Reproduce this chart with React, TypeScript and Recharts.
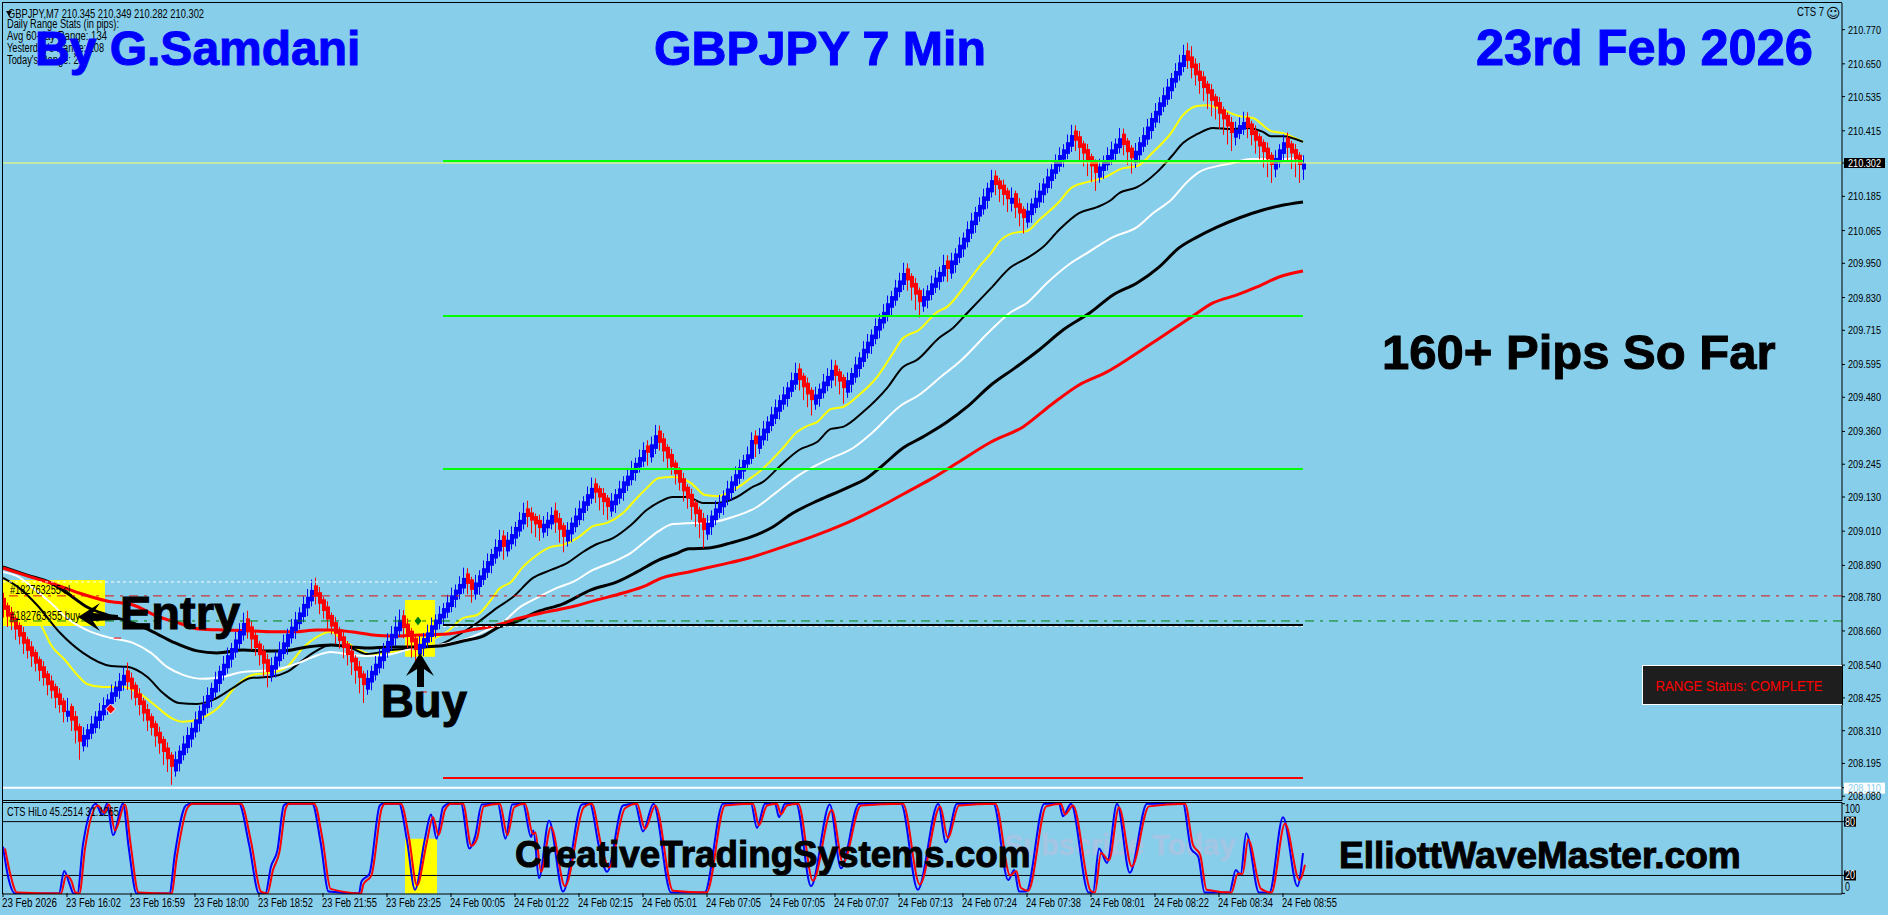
import React from "react";
import { ComposedChart, Bar, Line, XAxis, YAxis, ReferenceLine, ReferenceArea, ReferenceDot } from "recharts";

const closes = [
208.734,208.71,208.69,208.665,208.64,208.615,208.59,208.57,208.545,208.52,208.495,208.47,208.45,208.425,208.40,208.375,208.38,208.345,208.31,208.271,
208.295,208.315,208.335,208.36,208.38,208.40,208.42,208.445,208.465,208.485,208.506,
208.48,208.455,208.425,208.40,208.37,208.345,208.32,208.29,208.265,208.235,208.21,208.183,
208.21,208.24,208.265,208.295,208.32,208.35,208.38,208.405,208.435,208.46,208.49,208.52,208.545,208.575,208.60,208.63,208.66,208.688,
208.66,208.63,208.60,208.575,208.545,208.516,
208.54,208.57,208.595,208.62,208.65,208.675,208.70,208.725,208.755,208.78,208.804,
208.78,208.755,208.73,208.70,208.675,208.65,208.625,208.60,208.575,208.55,208.52,208.495,208.47,
208.495,208.52,208.545,208.57,208.60,208.625,208.65,208.675,208.699,
208.67,208.645,208.62,208.593,
208.615,208.635,208.655,208.68,208.70,208.72,208.74,208.76,208.785,208.805,208.825,208.846,
208.825,208.804,
208.83,208.855,208.88,208.905,208.93,208.955,208.979,
208.955,
208.98,209.00,209.025,209.05,209.074,
209.06,209.047,209.034,209.021,
209.036,209.05,209.067,
209.04,209.015,208.99,
209.015,209.04,209.065,209.09,209.115,209.14,209.162,
209.145,209.128,209.112,209.095,
209.117,209.14,209.16,209.185,209.205,209.23,209.25,209.27,209.295,
209.285,
209.315,209.347,
209.32,209.29,209.265,209.235,209.21,209.18,209.15,209.125,209.095,209.07,209.04,209.014,
209.04,209.065,209.09,209.11,209.135,209.16,209.185,209.21,209.235,209.26,209.28,209.33,
209.315,
209.345,209.37,209.395,209.42,209.445,209.47,209.49,209.515,209.54,209.565,
209.54,209.515,209.49,209.47,
209.49,209.51,209.535,209.555,209.576,
209.555,209.535,209.512,
209.54,209.565,209.595,209.62,209.65,209.675,209.70,209.73,209.755,209.78,209.81,209.835,209.865,209.89,209.916,
209.89,209.865,209.84,209.814,
209.835,209.855,209.88,209.90,209.92,209.944,
209.93,
209.96,209.985,210.015,210.04,210.07,210.10,210.13,210.155,210.185,210.215,210.242,
210.225,210.21,210.19,210.175,210.18,210.145,210.125,210.109,
210.135,210.16,210.18,210.205,210.23,210.255,210.28,210.305,210.33,210.35,210.375,210.40,
210.38,210.355,210.335,210.31,210.29,210.267,
210.29,210.31,210.33,210.35,210.37,210.389,
210.365,210.34,210.319,
210.345,210.375,210.40,210.43,210.46,210.485,210.515,210.54,210.57,210.60,210.625,210.655,210.681,
210.66,210.635,210.61,210.59,210.565,210.545,210.52,210.50,210.475,210.455,210.43,210.407,
210.42,210.435,210.446,
210.425,210.40,210.38,210.36,210.34,210.315,210.295,
210.32,210.35,210.375,
210.355,210.335,210.315,210.295,
210.302,
];

const wickUpPips = [
2,1,2,1,1,2,1,2,1,1,2,1,2,1,2,1,5,1,2,1,
3,2,3,2,3,3,2,3,2,3,3,
3,2,1,2,1,2,1,1,2,1,2,1,
3,2,3,3,2,3,2,3,3,2,3,2,3,3,2,3,3,4,
3,2,2,1,2,2,
3,2,3,3,2,3,3,2,3,3,4,
3,2,1,2,1,2,1,2,1,2,1,2,1,
3,2,3,3,2,3,3,4,4,
2,2,1,1,
3,2,3,3,2,3,2,3,3,2,3,4,
2,1,
3,2,3,3,2,3,4,
2,
3,3,2,3,4,
3,2,1,2,
3,3,3,
3,2,1,
3,2,3,3,2,3,4,
2,1,2,1,
3,2,3,2,3,3,2,3,3,
2,
3,4,
2,2,1,2,1,1,2,1,2,1,1,2,
3,2,3,3,2,3,2,3,3,2,3,3,
2,
3,3,2,3,3,2,3,2,3,4,
2,1,2,1,
3,2,3,3,4,
2,1,1,
3,2,3,2,3,3,2,3,2,3,3,2,3,3,4,
2,1,2,1,
3,2,3,3,2,4,
2,
3,2,3,2,3,3,2,3,3,2,4,
2,1,2,1,4,1,2,1,
3,2,3,3,2,3,2,3,3,2,3,4,
2,2,1,2,1,1,
3,2,3,3,2,4,
2,1,1,
3,2,3,3,2,3,2,3,3,2,3,3,4,
3,4,2,3,2,1,2,1,2,1,1,2,
3,3,4,
2,1,2,1,1,2,1,
3,2,3,
2,1,2,1,
3,
];

const wickDownPips = [
3,4,3,4,3,4,3,4,3,4,3,4,3,4,3,4,2,4,5,7,
2,3,2,2,3,2,2,3,2,3,2,
3,4,3,4,3,4,3,4,4,5,5,7,
2,3,2,2,3,2,3,2,2,3,2,3,2,2,3,2,2,2,
3,4,3,4,5,6,
2,3,2,2,3,2,3,2,2,3,2,
3,4,3,4,3,4,3,4,4,5,5,6,7,
2,3,2,2,3,2,2,3,2,
4,5,6,6,
2,3,2,2,3,2,3,2,2,3,2,2,
4,5,
2,3,2,2,3,2,2,
5,
2,2,3,2,2,
4,5,5,5,
2,3,2,
4,5,6,
2,3,2,2,3,2,2,
4,5,5,5,
2,3,2,3,2,2,3,2,2,
5,
2,2,
3,4,4,3,4,3,4,4,5,5,6,7,
2,3,2,2,3,2,3,2,2,3,2,2,
5,
2,2,3,2,2,3,2,3,2,2,
4,5,5,6,
2,3,2,2,3,
4,5,6,
2,3,2,3,2,2,3,2,3,2,2,3,2,2,2,
4,5,6,6,
2,3,2,2,3,2,
5,
2,3,2,3,2,2,3,2,2,3,2,
4,5,4,5,3,4,5,6,
2,3,2,2,3,2,3,2,2,3,2,2,
4,5,5,6,6,7,
2,3,2,2,3,2,
4,5,6,
2,3,2,2,3,2,3,2,2,3,2,2,2,
3,4,4,5,5,6,6,5,6,6,7,7,
3,2,2,
4,4,5,5,6,7,7,
3,2,3,
5,6,7,7,
4,
];

const firstOpen = 208.76;
const bodyOverlap = 0.016;
const wickPip = 0.009;

const maYellow: [number, number][] = [[0,208.821],[9.75,208.674],[12,208.611],[15.5,208.558],[19,208.499],[21,208.474],[25,208.463],[30,208.463],[34,208.442],[38.5,208.393],[42,208.355],[45,208.341],[49,208.351],[54,208.393],[58.5,208.47],[62.5,208.506],[67,208.513],[71,208.534],[75,208.6],[78.5,208.639],[82,208.657],[84,208.639],[89,208.593],[92.5,208.576],[96,208.583],[101,208.6],[107,208.628],[111,208.657],[115,208.705],[118.5,208.716],[122,208.769],[124,208.807],[127,208.832],[130,208.885],[132.5,208.916],[137,208.955],[140,208.962],[144,208.99],[147.5,209.028],[151,209.039],[155,209.074],[158.5,209.127],[161,209.162],[164,209.197],[167.5,209.2],[172,209.179],[175.5,209.137],[178.5,209.133],[183.5,209.162],[187,209.197],[189,209.218],[195,209.302],[198.5,209.358],[201,209.379],[203.5,209.393],[207,209.439],[210,209.446],[214,209.488],[218.5,209.551],[222.5,209.635],[225,209.688],[229,209.716],[233.5,209.779],[236,209.797],[241,209.881],[244,209.937],[247,209.986],[249,210.025],[252.5,210.056],[256,210.063],[259,210.102],[264,210.165],[267,210.214],[271,210.235],[275,210.249],[280,210.284],[283.5,210.291],[287.5,210.34],[292,210.407],[295,210.47],[298.5,210.502],[301,210.505],[305,210.488],[309,210.467],[312.5,210.46],[317,210.414],[320,210.407],[325,210.376]];

const maBlackThin: [number, number][] = [[0,208.846],[4,208.811],[8.5,208.751],[14,208.657],[20,208.583],[27,208.537],[31,208.534],[36,208.499],[40,208.442],[44,208.407],[48.5,208.404],[52.5,208.418],[57.5,208.46],[62,208.495],[67,208.499],[71,208.516],[75,208.558],[77.5,208.583],[82,208.611],[87,208.6],[91,208.579],[97,208.593],[103.5,208.6],[109,208.611],[112.5,208.635],[118.5,208.688],[123.5,208.741],[127.5,208.779],[132.5,208.846],[137,208.874],[141,208.898],[145,208.937],[148.5,208.965],[152.5,208.986],[157,209.032],[161,209.085],[164,209.112],[167.5,209.13],[171,209.13],[175,209.109],[178.5,209.109],[183.5,209.13],[187,209.162],[190,209.183],[194,209.235],[199,209.295],[203.5,209.323],[207,209.369],[210,209.376],[215,209.428],[221,209.512],[225,209.586],[228.5,209.611],[234,209.688],[237.5,209.723],[241,209.775],[247,209.863],[252,209.937],[256,209.968],[260,210.007],[264,210.067],[269,210.126],[273.5,210.147],[277,210.172],[279,210.196],[283.5,210.217],[288.5,210.27],[292,210.323],[295,210.372],[298.5,210.403],[302.5,210.425],[307,210.421],[311,210.425],[315,210.411],[317,210.396],[320,210.396],[325,210.376]];

const maWhite: [number, number][] = [[0,208.867],[4,208.849],[7.5,208.811],[12,208.758],[16,208.705],[21,208.663],[27,208.635],[32.5,208.618],[37,208.583],[41,208.534],[45,208.506],[50,208.492],[55,208.499],[60,208.516],[65,208.52],[70,208.53],[74,208.548],[77.5,208.569],[82,208.586],[87,208.576],[91,208.572],[96,208.576],[102,208.597],[109,208.611],[115,208.628],[121,208.663],[125,208.691],[129,208.741],[133.5,208.776],[138.5,208.811],[142.5,208.832],[147.5,208.874],[152.5,208.902],[157,208.934],[161,208.979],[164,209.011],[167.5,209.035],[172.5,209.039],[177.5,209.042],[182.5,209.06],[188.5,209.095],[192.5,209.137],[199,209.207],[206,209.26],[212.5,209.302],[217.5,209.358],[224,209.446],[229,209.488],[235,209.558],[239,209.603],[247,209.716],[252,209.779],[256,209.811],[261,209.881],[267,209.951],[271,209.986],[277.5,210.042],[283.5,210.077],[287.5,210.126],[292,210.172],[296,210.235],[299,210.27],[303.5,210.291],[307.5,210.302],[312,210.316],[317.5,210.316],[325,210.319]];

const maBlackThick: [number, number][] = [[0,208.885],[6,208.856],[12,208.828],[16,208.793],[21,208.744],[26,208.716],[32.5,208.688],[37.5,208.657],[42.5,208.621],[48.5,208.59],[53.5,208.583],[60,208.593],[65,208.59],[70,208.59],[76,208.604],[82,208.611],[87,208.604],[91,208.6],[97,208.604],[103,208.604],[109,208.607],[115,208.625],[120,208.642],[124,208.674],[128,208.691],[133.5,208.727],[140,208.755],[147,208.804],[153.5,208.832],[158.5,208.867],[164,208.909],[168,208.93],[171.5,208.948],[176.5,208.951],[182,208.969],[187,208.99],[192,209.021],[197.5,209.074],[204,209.119],[211,209.162],[216,209.197],[220,209.242],[225,209.302],[230,209.341],[236,209.393],[241,209.446],[247,209.523],[253,209.583],[259,209.646],[265,209.716],[272,209.779],[277.5,209.839],[283.5,209.881],[289,209.937],[294,210.004],[298.5,210.042],[303.5,210.077],[309,210.109],[315,210.137],[319,210.151],[325,210.165]];

const maRed: [number, number][] = [[0,208.881],[7,208.849],[13.5,208.821],[19,208.793],[26,208.765],[32.5,208.751],[39,208.709],[44,208.688],[49,208.667],[56,208.663],[62,208.66],[67.5,208.657],[72.5,208.657],[78.5,208.663],[82,208.663],[87,208.657],[92.5,208.646],[97.5,208.642],[104,208.646],[111,208.649],[117,208.663],[123.5,208.681],[129,208.705],[136,208.727],[142,208.744],[148.5,208.769],[155,208.793],[161,208.821],[164,208.842],[171.5,208.867],[179,208.891],[186.5,208.916],[193.5,208.948],[203.5,208.997],[212.5,209.049],[221,209.109],[227,209.155],[232.5,209.197],[238.5,209.249],[247,209.323],[255,209.376],[262,209.453],[269,209.523],[276,209.569],[282,209.621],[289.5,209.691],[297,209.761],[302.5,209.811],[308.5,209.839],[313.5,209.867],[319,209.902],[325,209.923]];

const stochBars = [0,1.3,3,14,15.3,16.6,17.6,18.6,20,23.2,24.8,26,27.5,30,31.4,33.4,41.6,43,45.7,47,59,61.5,64,65.6,67,68.6,70.2,71,77.3,79.4,81.4,89,89.6,91.6,94.2,95,99,101,103,105.4,107,108.4,110,111.5,114.5,116.6,118,119.7,123.7,125.6,127.3,130,132,132.6,134,136.5,140,144.7,146.7,149,151,155,158,160,162.6,167,175.4,180,187,188.5,190.5,193,194,195.5,198.3,202,206.7,209.5,214,224.5,228.7,233.8,235.7,238.5,247.6,251.3,252.8,254,255.8,260.3,264,265,267,271.4,272.5,274,276,278.5,281.7,286,295,297,298.8,300.4,306.6,308.2,309.4,310.8,314,316.6,320,323.6,325];
const stochBlue = [52,18,0,0,25,11,0,0,55,100,87,100,65,100,52,0,0,45,98,100,100,55,0,0,30,48,98,100,100,57,2,0,13,22,98,100,100,59,4,59,88,61,96,100,100,50,63,99,100,61,99,100,63,70,17,81,2,99,100,52,24,98,100,69,100,1,1,100,100,73,100,100,85,100,100,8,99,28,100,100,4,100,57,100,100,15,26,2,2,100,100,86,100,1,1,50,34,100,23,100,100,50,41,1,1,26,21,67,1,1,85,8,45];
const stochRed = [50,22,1,0,20,14,1,0,50,98,90,99,70,99,55,1,0,42,96,100,100,58,2,0,26,46,95,100,100,60,5,0,10,20,95,100,100,62,9,56,85,65,93,100,100,53,61,97,100,65,96,100,66,68,24,74,8,96,100,55,29,95,100,72,98,3,1,98,100,76,98,100,88,98,100,14,93,34,98,100,10,97,62,98,100,20,25,6,3,97,100,88,98,3,1,45,37,96,30,97,100,54,43,4,1,22,22,60,5,1,78,15,32];

const priceTicks = [210.77,210.65,210.535,210.415,210.302,210.185,210.065,209.95,209.83,209.715,209.595,209.48,209.36,209.245,209.13,209.01,208.89,208.78,208.66,208.54,208.425,208.31,208.195,208.11,208.08];
const timeTicks = [0,16,32,48,64,80,96,112,128,144,160,176,192,208,224,240,256,272,288,304,320];
const timeLabels = ["23 Feb 2026","23 Feb 16:02","23 Feb 16:59","23 Feb 18:00","23 Feb 18:52","23 Feb 21:55","23 Feb 23:25","24 Feb 00:05","24 Feb 01:22","24 Feb 02:15","24 Feb 05:01","24 Feb 07:05","24 Feb 07:05","24 Feb 07:07","24 Feb 07:13","24 Feb 07:24","24 Feb 07:38","24 Feb 08:01","24 Feb 08:22","24 Feb 08:34","24 Feb 08:55"];
const oscTicks = [100,80,20,0];
const infoLines = ["Daily Range Stats (in pips):","Avg 60-day Range: 134","Yesterday's Range: 108","Today's Range: 207"];

const greenLevels = [210.309,209.765,209.228];
const redLevel = 208.144;
const blackLevel = 208.681;
const bidLevel = 208.11;
const lastPrice = 210.302;
const stopDash = 208.783;
const entryDash = 208.695;
const topDotted = 208.832;
const lowDotted = 208.676;

const candles = closes.map((close, i) => {
  const prev = i === 0 ? firstOpen : closes[i - 1];
  const open = close >= prev ? prev - bodyOverlap : prev + bodyOverlap;
  const high = Math.max(open, close) + (wickUpPips[i] ?? 2) * wickPip;
  const low = Math.min(open, close) - (wickDownPips[i] ?? 2) * wickPip;
  return { i, open, close, high, low, range: [low, high] };
});
const pts = (a: [number, number][]) => a.map(([i, v]) => ({ i, v }));

const BG = "#87CEEB";
const UI = "'Liberation Sans', Arial, sans-serif";
const barDomain: [number, number] = [0, 459.75];
const priceDomain: [number, number] = [208.065, 210.8635];
const oscDomain: [number, number] = [-0.67, 101.33];
const W = 1888;
const H = 915;
const mainMargin = { top: 3, right: 46, bottom: 114.5, left: 3 };
const layerStyle: React.CSSProperties = { position: "absolute", left: 0, top: 0, pointerEvents: "none" };

function Candle(props: any) {
  const { x, y, width, height, payload } = props;
  const { open, close, high, low } = payload;
  const color = close >= open ? "#0000ff" : "#ff0000";
  const cx = Math.round(x + width / 2);
  const unit = height / (high - low);
  const top = y + (high - Math.max(open, close)) * unit;
  const h = Math.max(Math.abs(open - close) * unit, 1);
  return (
    <g>
      <rect x={cx} y={y} width={1} height={height} fill={color} />
      <rect x={cx - 1} y={top} width={4} height={h} fill={color} />
    </g>
  );
}

function PriceTick(props: any) {
  const { x, y, payload } = props;
  const v = payload.value as number;
  const label = v.toFixed(3);
  const isLast = v === lastPrice;
  const isBid = v === bidLevel;
  return (
    <g>
      <line x1={x} x2={x + 3} y1={y} y2={y} stroke="#000" />
      {isLast && <rect x={x + 2} y={y - 5} width={41} height={10} fill="#000" />}
      {isBid && <rect x={x + 2} y={y - 5} width={41} height={11} fill="#fff" />}
      <text x={x + 6} y={y + 4} fontFamily={UI} fontSize={11} fill={isLast ? "#fff" : isBid ? BG : "#000"} textLength={33} lengthAdjust="spacingAndGlyphs">{label}</text>
    </g>
  );
}

function OscTick(props: any) {
  const { x, y, payload } = props;
  const v = payload.value as number;
  const boxed = v === 80 || v === 20;
  const ty = v === 100 ? y + 5 : v === 0 ? y - 6 : y;
  return (
    <g>
      <line x1={x} x2={x + 3} y1={y} y2={y} stroke="#000" />
      {boxed && <rect x={x + 2} y={y - 5} width={12} height={10} fill="#000" />}
      <text x={x + 3} y={ty + 4} fontFamily={UI} fontSize={12} fill={boxed ? "#fff" : "#000"} textLength={v === 100 ? 15 : v === 0 ? 5 : 10} lengthAdjust="spacingAndGlyphs">{v}</text>
    </g>
  );
}

function TimeTick(props: any) {
  const { x, y, payload } = props;
  const label = timeLabels[timeTicks.indexOf(payload.value)];
  return (
    <g>
      <line x1={x} x2={x} y1={y - 1} y2={y + 3} stroke="#000" />
      <text x={x - 1} y={y + 13} fontFamily={UI} fontSize={12} fill="#000" textLength={55} lengthAdjust="spacingAndGlyphs">{label}</text>
    </g>
  );
}

function Small({ x, y, w, children, fill = "#000" }: any) {
  return <text x={x} y={y} fontFamily={UI} fontSize={12} fill={fill} textLength={w} lengthAdjust="spacingAndGlyphs">{children}</text>;
}

function Big({ x, y, size, fill = "#000", children, bold = 1 }: any) {
  return <text x={x} y={y} fontFamily={UI} fontWeight={700} fontSize={size} fill={fill} stroke={fill} strokeWidth={bold}>{children}</text>;
}

const redDiamond = (p: any) => (
  <polygon points={`${p.cx - 5},${p.cy} ${p.cx},${p.cy - 5} ${p.cx + 5},${p.cy} ${p.cx},${p.cy + 5}`} fill="#ff0000" stroke="#fff" strokeWidth={1} />
);
const greenDiamond = (p: any) => (
  <polygon points={`${p.cx - 4},${p.cy} ${p.cx},${p.cy - 5} ${p.cx + 4},${p.cy} ${p.cx},${p.cy + 5}`} fill="#008000" stroke="#ffff00" strokeWidth={1} />
);

export default function App() {
  return (
    <div style={{ position: "absolute", left: 0, top: 0, width: W, height: H, background: BG, overflow: "hidden" }}>
      {/* zones and moving averages, under the candles */}
      <div style={layerStyle}>
        <ComposedChart width={W} height={H} data={candles} margin={mainMargin}>
          <XAxis hide type="number" dataKey="i" domain={barDomain} allowDataOverflow />
          <YAxis hide type="number" domain={priceDomain} allowDataOverflow />
          <ReferenceArea x1={0} x2={25.5} y1={208.677} y2={208.839} fill="#ffff00" fillOpacity={1} stroke="none" />
          <ReferenceArea x1={100.5} x2={108} y1={208.569} y2={208.769} fill="#ffff00" fillOpacity={1} stroke="none" />
          <Line data={pts(maYellow)} dataKey="v" type="monotone" stroke="#ffff00" strokeWidth={2} dot={false} isAnimationActive={false} />
          <Line data={pts(maBlackThin)} dataKey="v" type="monotone" stroke="#000" strokeWidth={2} dot={false} isAnimationActive={false} />
          <Line data={pts(maWhite)} dataKey="v" type="monotone" stroke="#fff" strokeWidth={2} dot={false} isAnimationActive={false} />
          <Line data={pts(maBlackThick)} dataKey="v" type="monotone" stroke="#000" strokeWidth={3} dot={false} isAnimationActive={false} />
          <Line data={pts(maRed)} dataKey="v" type="monotone" stroke="#ff0000" strokeWidth={3} dot={false} isAnimationActive={false} />
        </ComposedChart>
      </div>
      {/* candles */}
      <div style={layerStyle}>
        <ComposedChart width={W} height={H} data={candles} margin={mainMargin}>
          <XAxis hide type="number" dataKey="i" domain={barDomain} allowDataOverflow />
          <YAxis hide type="number" domain={priceDomain} allowDataOverflow />
          <Bar dataKey="range" barSize={3} shape={<Candle />} isAnimationActive={false} />
        </ComposedChart>
      </div>
      {/* horizontal levels and axis */}
      <div style={layerStyle}>
        <ComposedChart width={W} height={H} data={candles} margin={{ top: 3, right: 0, bottom: 114.5, left: 3 }}>
          <XAxis hide type="number" dataKey="i" domain={barDomain} allowDataOverflow />
          <YAxis orientation="right" width={46} type="number" domain={priceDomain} allowDataOverflow ticks={priceTicks} interval={0} tick={<PriceTick />} tickLine={false} tickSize={0} tickMargin={0} axisLine={{ stroke: "#000" }} />
          <ReferenceLine segment={[{ x: 0, y: topDotted }, { x: 108.5, y: topDotted }]} stroke="#fff" strokeWidth={1} strokeDasharray="3 3" />
          <ReferenceLine y={stopDash} stroke="#dd1111" strokeWidth={1} strokeDasharray="9 6 3 6" />
          <ReferenceLine y={entryDash} stroke="#008000" strokeWidth={1} strokeDasharray="9 6 3 6" />
          <ReferenceLine segment={[{ x: 110, y: lowDotted }, { x: 325, y: lowDotted }]} stroke="#fff" strokeWidth={1} strokeDasharray="3 3" />
          <ReferenceLine segment={[{ x: 110, y: blackLevel }, { x: 325, y: blackLevel }]} stroke="#000" strokeWidth={2} />
          <ReferenceLine segment={[{ x: 110, y: redLevel }, { x: 325, y: redLevel }]} stroke="#ff0000" strokeWidth={2} />
          {greenLevels.map((g) => (
            <ReferenceLine key={g} segment={[{ x: 110, y: g }, { x: 325, y: g }]} stroke="#00ff00" strokeWidth={2} />
          ))}
          <ReferenceLine y={lastPrice} stroke="#ffff66" strokeWidth={1} />
          <ReferenceLine y={bidLevel} stroke="#fff" strokeWidth={2} />
          <ReferenceDot x={26.9} y={208.386} r={5} shape={redDiamond} />
          <ReferenceDot x={103.75} y={208.695} r={5} shape={greenDiamond} />
          <ReferenceLine segment={[{ x: 27.7, y: 208.635 }, { x: 29.5, y: 208.635 }]} stroke="#ff0000" strokeWidth={1} />
          <ReferenceLine segment={[{ x: 104.5, y: 208.446 }, { x: 106, y: 208.446 }]} stroke="#ff0000" strokeWidth={1} />
        </ComposedChart>
      </div>
      {/* faint watermark under the oscillator */}
      <svg width={W} height={H} style={layerStyle}>
        <Big x={1004} y={855} size={29} fill="#a4c6e4" bold={0.5}>Subscribe Today</Big>
      </svg>
      {/* oscillator panel */}
      <div style={layerStyle}>
        <ComposedChart width={W} height={H} data={candles} margin={{ top: 802.5, right: 0, bottom: 0, left: 3 }}>
          <XAxis height={21} type="number" dataKey="i" domain={barDomain} allowDataOverflow ticks={timeTicks} interval={0} tick={<TimeTick />} tickLine={false} tickSize={0} tickMargin={0} axisLine={{ stroke: "#000" }} />
          <YAxis orientation="right" width={46} type="number" domain={oscDomain} allowDataOverflow ticks={oscTicks} interval={0} tick={<OscTick />} tickLine={false} tickSize={0} tickMargin={0} axisLine={{ stroke: "#000" }} />
          <ReferenceArea x1={100.5} x2={108.5} y1={0} y2={60.8} fill="#ffff00" fillOpacity={1} stroke="none" />
          <ReferenceLine y={80} stroke="#000" strokeWidth={1} />
          <ReferenceLine y={20} stroke="#000" strokeWidth={1} />
          <Line data={stochBars.map((i, k) => ({ i, v: stochBlue[k] }))} dataKey="v" type="monotone" stroke="#0000ff" strokeWidth={2} dot={false} isAnimationActive={false} />
          <Line data={stochBars.map((i, k) => ({ i: i + 0.5, v: stochRed[k] }))} dataKey="v" type="monotone" stroke="#ff0000" strokeWidth={2} dot={false} isAnimationActive={false} />
        </ComposedChart>
      </div>
      {/* frame, labels and annotations */}
      <svg width={W} height={H} style={layerStyle}>
        <line x1={2} x2={1842} y1={2.5} y2={2.5} stroke="#000" />
        <line x1={2.5} x2={2.5} y1={2} y2={894} stroke="#000" />
        <line x1={2} x2={1842} y1={800.5} y2={800.5} stroke="#000" />
        <line x1={2} x2={1842} y1={802.5} y2={802.5} stroke="#000" />

        <Small x={8} y={18} w={196}>GBPJPY,M7  210.345 210.349 210.282 210.302</Small>
        <polygon points="6,11 12,11 9,16" fill="#000" />
        <Small x={7} y={28} w={112}>{infoLines[0]}</Small>
        <Small x={7} y={40} w={100}>{infoLines[1]}</Small>
        <Small x={7} y={52} w={97}>{infoLines[2]}</Small>
        <Small x={7} y={64} w={82}>{infoLines[3]}</Small>
        <Small x={7} y={816} w={112}>CTS HiLo 45.2514 31.1265</Small>
        <Small x={1797} y={16} w={27}>CTS 7</Small>
        <text x={1826} y={18} fontFamily="'DejaVu Sans'" fontSize={14} fill="#000">☺</text>
        <Small x={10} y={594} w={60}>#182763255 sl</Small>
        <Small x={10} y={620} w={70}>#182763355 buy</Small>

        <Big x={35} y={65} size={48} fill="#0000ff">By G.Samdani</Big>
        <Big x={654} y={65} size={48.3} fill="#0000ff">GBPJPY 7 Min</Big>
        <Big x={1476} y={65} size={50.5} fill="#0000ff">23rd Feb 2026</Big>
        <Big x={1382} y={369} size={49} fill="#000">160+ Pips So Far</Big>
        <Big x={120} y={629} size={47} fill="#000">Entry</Big>
        <Big x={381} y={717} size={45.5} fill="#000">Buy</Big>
        <Big x={515} y={867} size={36.8} fill="#000">CreativeTradingSystems.com</Big>
        <Big x={1339} y={868} size={37} fill="#000">ElliottWaveMaster.com</Big>

        <polygon points="78,617 100,603 93,613 118,615 118,620 93,621 100,631" fill="#000" />
        <polygon points="420,653 434,676 424,669 424,687 417,687 417,669 406,676" fill="#000" />

        <rect x={1642.5} y={665.5} width={200} height={39} fill="#1e1e1e" stroke="#fff" strokeWidth={1} />
        <line x1={1842.5} x2={1842.5} y1={665} y2={705} stroke="#000" />
        <text x={1655.5} y={691} fontFamily={UI} fontSize={14} fill="#ff0000" textLength={167} lengthAdjust="spacingAndGlyphs">RANGE Status: COMPLETE</text>
      </svg>
    </div>
  );
}
